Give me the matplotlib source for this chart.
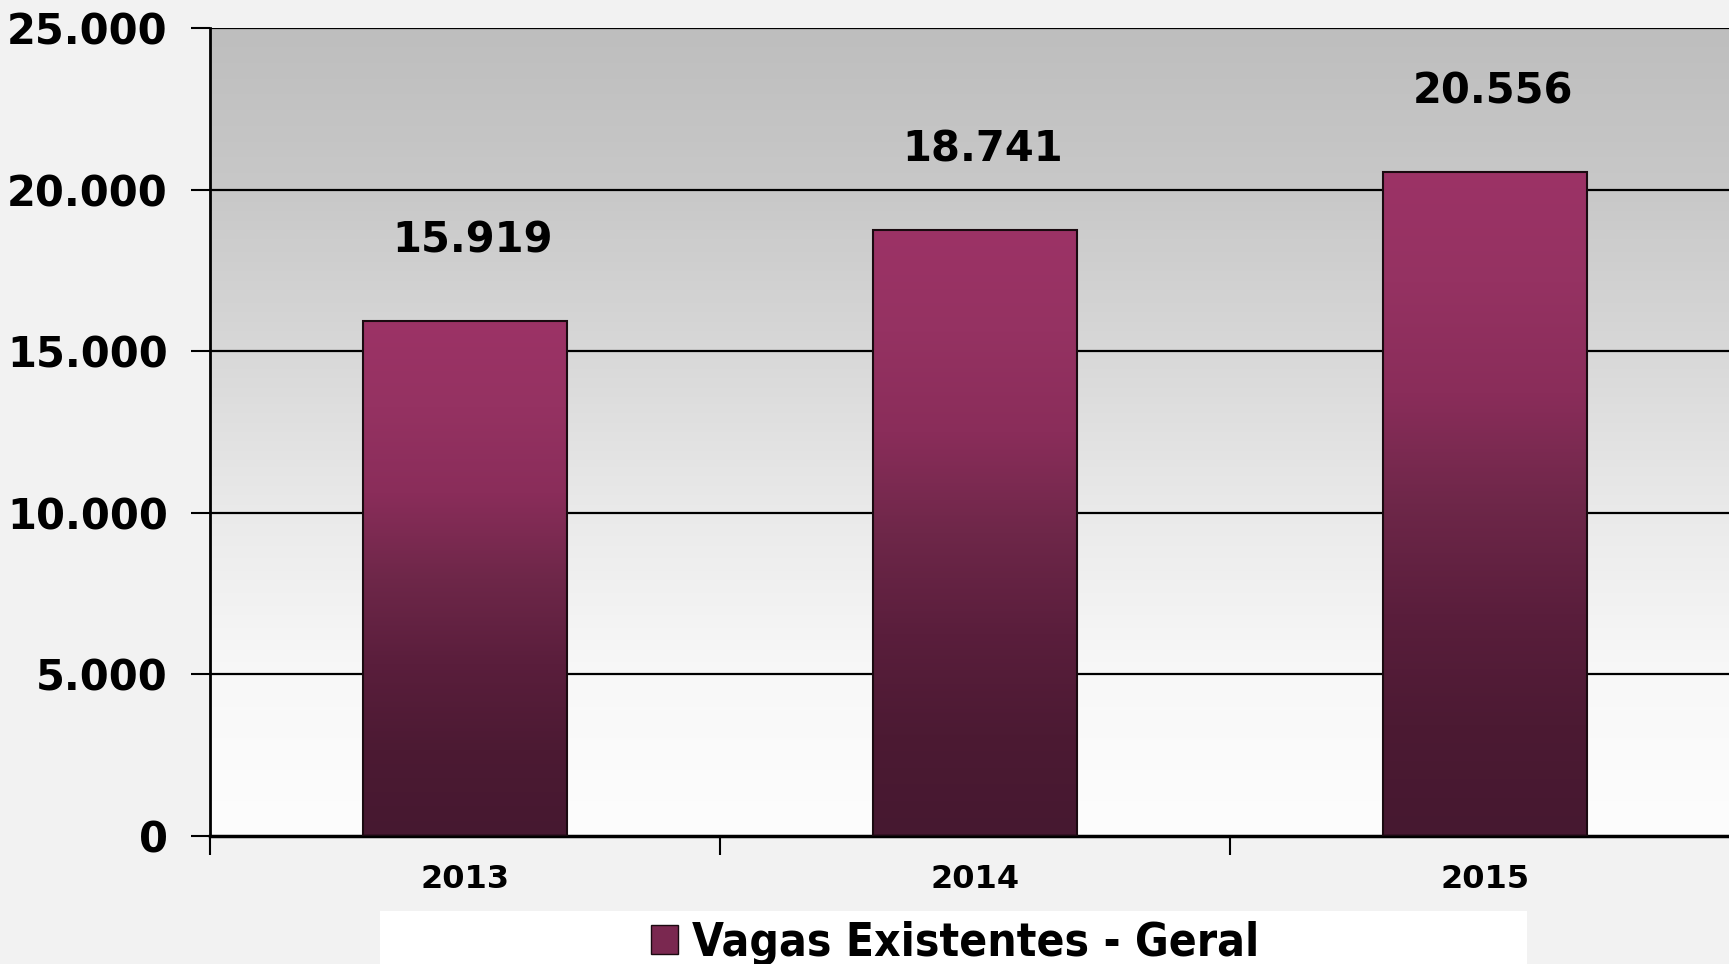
import numpy as np
import matplotlib
matplotlib.use('Agg')
import matplotlib.pyplot as plt
from matplotlib.colors import LinearSegmentedColormap
from matplotlib.patches import Patch, Rectangle

# data
years = ['2013', '2014', '2015']
vagas = [15919, 18741, 20556]
value_labels = ['15.919', '18.741', '20.556']
yticks = [0, 5000, 10000, 15000, 20000, 25000]
ytick_labels = ['0', '5.000', '10.000', '15.000', '20.000', '25.000']
legend_label = 'Vagas Existentes - Geral'

plt.rcParams['font.family'] = ['DejaVu Sans']
plt.rcParams['font.weight'] = 'bold'

fig = plt.figure(figsize=(17.29, 9.64), dpi=100, facecolor='#f2f2f2')
W, H = 1729, 964
# axes in pixel coords: left 209.5, right ~1740 (runs off the figure), top 28, bottom 836
ax = fig.add_axes([209.5 / W, (H - 836) / H, (1740 - 209.5) / W, (836 - 28) / H])

x = np.arange(len(years))
ax.set_xlim(-0.5, 2.5)
ax.set_ylim(0, 25000)

# grey-to-white background gradient in the plot area
bg = LinearSegmentedColormap.from_list('bg', ['#fdfdfd', '#f8f8f8', '#eaeaea', '#d8d8d8', '#c8c8c8', '#bebebe'])
grad = np.linspace(0, 1, 256).reshape(-1, 1)
ax.imshow(grad, cmap=bg, origin='lower', aspect='auto', extent=[-0.5, 2.5, 0, 25000], zorder=0)

for y in yticks[1:]:
    ax.axhline(y, color='black', lw=1.6, zorder=1)

# bars with vertical gradient
barcm = LinearSegmentedColormap.from_list('bar', ['#461830', '#4c1a33', '#5a1e3c', '#6e2749', '#8a2d5a', '#953262', '#9c3366'])
bars = ax.bar(x, vagas, width=0.4, facecolor='none', edgecolor='#1a0a10', lw=1.5, zorder=3)
for b in bars:
    x0, w, h = b.get_x(), b.get_width(), b.get_height()
    im = ax.imshow(grad, cmap=barcm, origin='lower', aspect='auto',
                   extent=[x0, x0 + w, 0, h], zorder=2)
    im.set_clip_path(b)

for xi, v, lab in zip(x, vagas, value_labels):
    ax.annotate(lab, (xi, v), xytext=(6, 58), textcoords='offset points',
                ha='center', va='center', fontsize=30, fontweight='bold')
ax.set_xlim(-0.5, 2.5)

ax.set_yticks(yticks)
ax.set_yticklabels(ytick_labels, fontsize=30, fontweight='bold')
ax.tick_params(axis='y', length=14, width=1.5, pad=16)

ax.set_xticks([-0.5, 0.5, 1.5], minor=False)
ax.set_xticklabels([])
ax.tick_params(axis='x', length=14, width=1.5, direction='out')
ax.set_xticks(x, minor=True)
ax.set_xticklabels(years, minor=True, fontsize=23, fontweight='bold')
ax.tick_params(axis='x', which='minor', length=0, pad=20)

for s in ['top', 'right']:
    ax.spines[s].set_visible(False)
ax.spines['left'].set_linewidth(2)
ax.spines['bottom'].set_linewidth(2.5)

# white legend box at the bottom
fig.patches.append(Rectangle((380 / W, 0), (1527 - 380) / W, (H - 911) / H,
                             transform=fig.transFigure, facecolor='white', edgecolor='none', zorder=0))
handle = Patch(facecolor='#7a2850', edgecolor='#1a0a10', lw=1)
fig.legend(handles=[handle], labels=[legend_label], loc='center', bbox_to_anchor=(955 / W, (H - 943) / H),
           frameon=False, prop={'family': 'DejaVu Sans', 'stretch': 'condensed', 'weight': 'bold', 'size': 33},
           handlelength=0.6, handleheight=0.6, handletextpad=0.3)

fig.savefig('out.png', dpi=100, facecolor=fig.get_facecolor())
